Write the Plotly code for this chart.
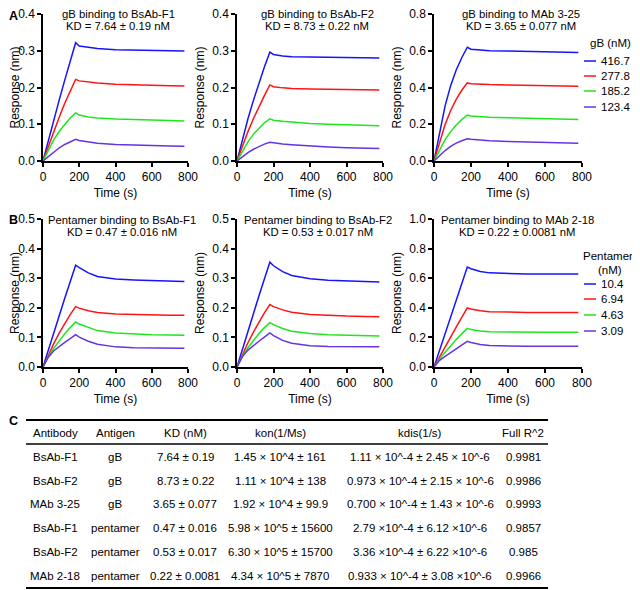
import plotly.graph_objects as go

# ---- data ----
TIME = [0, 30, 60, 90, 120, 150, 180, 200, 250, 300, 400, 500, 600, 700, 780]

GB_CONC = ["416.7", "277.8", "185.2", "123.4"]
PENT_CONC = ["10.4", "6.94", "4.63", "3.09"]

# each panel: curves in the order of the concentration list (high -> low)
A1_CURVES = [
    [0, 0.058, 0.113, 0.167, 0.22, 0.272, 0.322, 0.313, 0.309, 0.306, 0.303, 0.302, 0.301, 0.300, 0.299],
    [0, 0.042, 0.082, 0.12, 0.157, 0.19, 0.222, 0.218, 0.215, 0.212, 0.209, 0.207, 0.206, 0.205, 0.204],
    [0, 0.03, 0.058, 0.081, 0.10, 0.117, 0.131, 0.125, 0.12, 0.117, 0.114, 0.112, 0.111, 0.110, 0.109],
    [0, 0.012, 0.025, 0.036, 0.045, 0.053, 0.059, 0.056, 0.051, 0.048, 0.045, 0.043, 0.042, 0.041, 0.040],
]
A2_CURVES = [
    [0, 0.06, 0.115, 0.165, 0.212, 0.256, 0.296, 0.29, 0.286, 0.284, 0.283, 0.282, 0.281, 0.281, 0.280],
    [0, 0.042, 0.08, 0.115, 0.148, 0.178, 0.207, 0.202, 0.199, 0.197, 0.196, 0.195, 0.194, 0.193, 0.193],
    [0, 0.028, 0.052, 0.073, 0.09, 0.104, 0.115, 0.111, 0.108, 0.106, 0.102, 0.100, 0.098, 0.097, 0.096],
    [0, 0.012, 0.023, 0.032, 0.04, 0.046, 0.051, 0.049, 0.046, 0.044, 0.040, 0.038, 0.036, 0.035, 0.034],
]
A3_CURVES = [
    [0, 0.16, 0.30, 0.41, 0.495, 0.562, 0.619, 0.608, 0.603, 0.600, 0.598, 0.596, 0.594, 0.592, 0.591],
    [0, 0.105, 0.198, 0.275, 0.335, 0.385, 0.425, 0.421, 0.418, 0.416, 0.414, 0.412, 0.410, 0.408, 0.407],
    [0, 0.062, 0.116, 0.16, 0.196, 0.225, 0.25, 0.245, 0.241, 0.238, 0.235, 0.232, 0.230, 0.228, 0.226],
    [0, 0.03, 0.057, 0.079, 0.097, 0.11, 0.121, 0.118, 0.113, 0.110, 0.106, 0.103, 0.100, 0.098, 0.096],
]
B1_CURVES = [
    [0, 0.06, 0.118, 0.175, 0.232, 0.288, 0.344, 0.336, 0.318, 0.306, 0.297, 0.294, 0.292, 0.290, 0.289],
    [0, 0.042, 0.08, 0.115, 0.148, 0.177, 0.204, 0.199, 0.19, 0.184, 0.179, 0.177, 0.176, 0.175, 0.175],
    [0, 0.035, 0.064, 0.09, 0.112, 0.133, 0.152, 0.145, 0.133, 0.123, 0.115, 0.111, 0.109, 0.108, 0.107],
    [0, 0.034, 0.055, 0.07, 0.083, 0.096, 0.109, 0.101, 0.087, 0.077, 0.068, 0.065, 0.064, 0.063, 0.063],
]
B2_CURVES = [
    [0, 0.062, 0.122, 0.18, 0.24, 0.297, 0.354, 0.342, 0.322, 0.309, 0.298, 0.293, 0.290, 0.288, 0.287],
    [0, 0.043, 0.082, 0.118, 0.152, 0.183, 0.211, 0.204, 0.193, 0.185, 0.177, 0.174, 0.172, 0.171, 0.170],
    [0, 0.036, 0.065, 0.09, 0.113, 0.133, 0.15, 0.143, 0.13, 0.121, 0.113, 0.109, 0.107, 0.106, 0.105],
    [0, 0.035, 0.057, 0.073, 0.087, 0.101, 0.115, 0.106, 0.09, 0.08, 0.072, 0.069, 0.068, 0.068, 0.068],
]
B3_CURVES = [
    [0, 0.112, 0.225, 0.338, 0.45, 0.563, 0.676, 0.664, 0.645, 0.636, 0.631, 0.629, 0.628, 0.628, 0.628],
    [0, 0.07, 0.138, 0.205, 0.27, 0.335, 0.399, 0.392, 0.38, 0.374, 0.370, 0.369, 0.369, 0.369, 0.369],
    [0, 0.055, 0.10, 0.145, 0.185, 0.224, 0.261, 0.254, 0.243, 0.238, 0.235, 0.234, 0.234, 0.234, 0.234],
    [0, 0.045, 0.072, 0.098, 0.123, 0.148, 0.173, 0.166, 0.152, 0.145, 0.141, 0.140, 0.140, 0.140, 0.140],
]

TITLES = [
    ("gB binding to BsAb-F1", "KD = 7.64 ± 0.19 nM"),
    ("gB binding to BsAb-F2", "KD = 8.73 ± 0.22 nM"),
    ("gB binding to MAb 3-25", "KD = 3.65 ± 0.077 nM"),
    ("Pentamer binding to BsAb-F1", "KD = 0.47 ± 0.016 nM"),
    ("Pentamer binding to BsAb-F2", "KD = 0.53 ± 0.017 nM"),
    ("Pentamer binding to MAb 2-18", "KD = 0.22 ± 0.0081 nM"),
]
Y_MAX = [0.4, 0.4, 0.8, 0.5, 0.5, 1.0]
Y_STEP = [0.1, 0.1, 0.2, 0.1, 0.1, 0.2]

# table
TABLE_HEADER = ["Antibody", "Antigen", "KD (nM)", "kon(1/Ms)", "kdis(1/s)", "Full R^2"]
ANTIBODY = ["BsAb-F1", "BsAb-F2", "MAb 3-25", "BsAb-F1", "BsAb-F2", "MAb 2-18"]
ANTIGEN = ["gB", "gB", "gB", "pentamer", "pentamer", "pentamer"]
KD = ["7.64 ± 0.19", "8.73 ± 0.22", "3.65 ± 0.077", "0.47 ± 0.016", "0.53 ± 0.017", "0.22 ± 0.0081"]
KON = ["1.45 × 10^4 ± 161", "1.11 × 10^4 ± 138", "1.92 × 10^4 ± 99.9",
       "5.98 × 10^5 ± 15600", "6.30 × 10^5 ± 15700", "4.34 × 10^5 ± 7870"]
KDIS = ["1.11 × 10^-4 ± 2.45 × 10^-6", "0.973 × 10^-4 ± 2.15 × 10^-6",
        "0.700 × 10^-4 ± 1.43 × 10^-6", "2.79 ×10^-4 ± 6.12 ×10^-6",
        "3.36 ×10^-4 ± 6.22 ×10^-6", "0.933 × 10^-4 ± 3.08 ×10^-6"]
R2 = ["0.9981", "0.9986", "0.9993", "0.9857", "0.985", "0.9966"]

COLORS = ["#1414ff", "#ff1414", "#1ee61e", "#6433e6"]
FONT = "Liberation Sans, Arial, sans-serif"

W, H = 640, 590
OFF = 8  # the page body adds an 8px margin; positions below are window pixels


def px(x):
    return (x - OFF) / W


def py(y):
    return 1 - (y - OFF) / H


# plot areas in window pixels
COLS = [(43, 188), (237, 383), (434, 582)]
ROWS = [(14, 161), (219, 367)]
TITLE_X = [118, 317, 521, 122, 318, 517]
TITLE_Y = [(13.5, 26), (13.5, 26), (13.5, 26), (219.5, 232), (219.5, 232), (219.5, 232)]

fig = go.Figure()
panels = [A1_CURVES, A2_CURVES, A3_CURVES, B1_CURVES, B2_CURVES, B3_CURVES]
annotations = []
shapes = []
axis_font = dict(family=FONT, size=12, color="black")


def note(text, x, y, size=12, xanchor="center", pad=1, yanchor="middle"):
    annotations.append(dict(text=text, x=px(x), y=py(y), xref="paper", yref="paper",
                            xanchor=xanchor, yanchor=yanchor, showarrow=False, borderpad=pad,
                            font=dict(family=FONT, size=size, color="black")))


for i, curves in enumerate(panels):
    n = i + 1
    xa = "x" if n == 1 else f"x{n}"
    ya = "y" if n == 1 else f"y{n}"
    for k, vals in enumerate(curves):
        fig.add_trace(go.Scatter(
            x=TIME, y=vals, mode="lines", xaxis=xa, yaxis=ya,
            line=dict(color=COLORS[k], width=1.5), showlegend=False,
        ))
    c0, c1 = COLS[i % 3]
    r0, r1 = ROWS[i // 3]
    common = dict(showline=True, linecolor="black", linewidth=1.5, ticks="outside",
                  ticklen=4, tickwidth=1.5, tickcolor="black", showgrid=False,
                  zeroline=False, tickfont=axis_font, automargin=False,
                  ticklabeloverflow="allow")
    fig.update_layout(**{
        f"xaxis{'' if n == 1 else n}": dict(
            domain=[px(c0), px(c1)], range=[0, 800], tickvals=[0, 200, 400, 600, 800],
            anchor=ya, title=dict(text="Time (s)", font=axis_font, standoff=5), **common),
        f"yaxis{'' if n == 1 else n}": dict(
            domain=[py(r1), py(r0)], range=[0, Y_MAX[i]], dtick=Y_STEP[i], tickformat=".1f",
            anchor=xa, title=dict(text="Response (nm)", font=axis_font, standoff=5), **common),
    })
    t1, t2 = TITLES[i]
    for txt, yy in zip((t1, t2), TITLE_Y[i]):
        note(txt, TITLE_X[i], yy, size=11.3, pad=0)

# panel letters
note("<b>A</b>", 8, 8, size=12.5, xanchor="left", pad=0, yanchor="top")
note("<b>B</b>", 8, 220, size=12.5, xanchor="left", pad=0)
note("<b>C</b>", 8, 421, size=12.5, xanchor="left", pad=0)

# legends (drawn by hand, next to the right-hand panels)
note("gB (nM)", 610, 43, size=11.5)
note("Pentamer", 608, 256, size=11.5)
note("(nM)", 610, 270, size=11.5)
for labels, ys in ((GB_CONC, [61, 76, 91, 107]), (PENT_CONC, [284, 299, 315, 331])):
    for k, (lab, yy) in enumerate(zip(labels, ys)):
        shapes.append(dict(type="line", xref="paper", yref="paper", x0=px(584), x1=px(596),
                           y0=py(yy), y1=py(yy), line=dict(color=COLORS[k], width=1.5)))
        note(lab, 599, yy, size=11.5, xanchor="left")

# table, one text per cell
COL_X = [55, 115, 185, 280, 420, 523]
ROW_Y = [457, 481, 504, 528, 552, 576]
for cx, head in zip(COL_X, TABLE_HEADER):
    note(head, cx, 433, size=11.5)
for cx, column in zip(COL_X, [ANTIBODY, ANTIGEN, KD, KON, KDIS, R2]):
    for ry, val in zip(ROW_Y, column):
        note(val, cx, ry, size=11.5)
for yy, w in ((420, 2), (444, 1.5), (588, 2)):
    shapes.append(dict(type="line", xref="paper", yref="paper", x0=px(26), x1=px(548),
                       y0=py(yy), y1=py(yy), line=dict(color="black", width=w)))

fig.update_layout(
    width=W, height=H, margin=dict(l=0, r=0, t=0, b=0, autoexpand=False),
    paper_bgcolor="white", plot_bgcolor="white",
    annotations=annotations, shapes=shapes, showlegend=False,
    font=dict(family=FONT, color="black"),
)

fig.write_html("out.html")
